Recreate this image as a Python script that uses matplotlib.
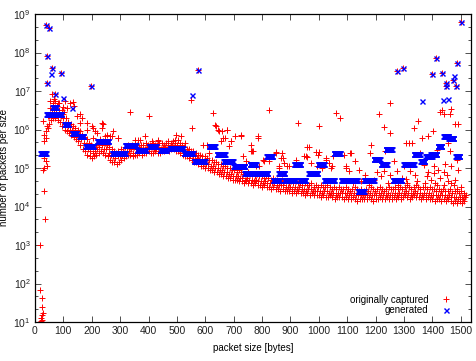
import numpy as np
import matplotlib
matplotlib.use("Agg")
import matplotlib.pyplot as plt
from matplotlib.ticker import FixedLocator, LogFormatterSciNotation, NullFormatter

plt.rcParams["font.family"] = ["Liberation Sans", "DejaVu Sans"]

# ---- originally captured (log10 of packet count) ----
# dense band: low / middle / high reading every 8 bytes, from 40 to 1512
red_core_size = np.arange(40, 1513, 8)
red_core_lo = [
    5.95, 6.15, 6.25, 6.3, 6.3, 6.25, 6.2, 6.1, 6.0, 5.95,
    5.9, 5.85, 5.8, 5.75, 5.7, 5.6, 5.5, 5.45, 5.35, 5.3,
    5.25, 5.3, 5.35, 5.4, 5.45, 5.4, 5.35, 5.3, 5.2, 5.15,
    5.15, 5.1, 5.15, 5.2, 5.25, 5.3, 5.35, 5.35, 5.3, 5.35,
    5.35, 5.4, 5.35, 5.4, 5.4, 5.45, 5.4, 5.4, 5.45, 5.4,
    5.4, 5.45, 5.45, 5.5, 5.45, 5.5, 5.5, 5.45, 5.45, 5.4,
    5.35, 5.3, 5.3, 5.25, 5.2, 5.15, 5.15, 5.1, 5.05, 5.05,
    5.0, 5.0, 4.95, 4.95, 4.9, 4.9, 4.85, 4.85, 4.8, 4.8,
    4.75, 4.75, 4.7, 4.7, 4.7, 4.65, 4.65, 4.6, 4.65, 4.6,
    4.6, 4.55, 4.6, 4.55, 4.55, 4.5, 4.55, 4.5, 4.5, 4.45,
    4.5, 4.45, 4.45, 4.4, 4.45, 4.4, 4.4, 4.4, 4.35, 4.4,
    4.35, 4.4, 4.35, 4.35, 4.3, 4.35, 4.3, 4.35, 4.3, 4.3,
    4.3, 4.25, 4.3, 4.25, 4.25, 4.3, 4.25, 4.2, 4.25, 4.25,
    4.25, 4.2, 4.25, 4.2, 4.2, 4.25, 4.2, 4.15, 4.2, 4.2,
    4.2, 4.2, 4.25, 4.2, 4.15, 4.2, 4.2, 4.25, 4.2, 4.2,
    4.25, 4.2, 4.2, 4.25, 4.2, 4.25, 4.2, 4.25, 4.3, 4.25,
    4.2, 4.25, 4.3, 4.25, 4.25, 4.2, 4.25, 4.2, 4.25, 4.2,
    4.2, 4.15, 4.2, 4.2, 4.15, 4.2, 4.15, 4.2, 4.15, 4.1,
    4.15, 4.1, 4.15, 4.1, 4.15,
]
red_core_mid = [
    6.1, 6.35, 6.45, 6.5, 6.45, 6.5, 6.35, 6.3, 6.15, 6.1,
    6.0, 6.0, 5.9, 5.9, 5.8, 5.75, 5.65, 5.6, 5.5, 5.45,
    5.4, 5.45, 5.5, 5.55, 5.6, 5.5, 5.5, 5.4, 5.35, 5.3,
    5.25, 5.3, 5.3, 5.35, 5.4, 5.45, 5.45, 5.5, 5.4, 5.5,
    5.45, 5.5, 5.5, 5.5, 5.55, 5.5, 5.55, 5.5, 5.5, 5.55,
    5.5, 5.55, 5.55, 5.6, 5.55, 5.6, 5.55, 5.55, 5.5, 5.5,
    5.45, 5.4, 5.4, 5.35, 5.3, 5.3, 5.25, 5.2, 5.2, 5.15,
    5.1, 5.1, 5.05, 5.05, 5.0, 5.0, 4.95, 4.95, 4.9, 4.9,
    4.85, 4.85, 4.8, 4.8, 4.8, 4.75, 4.75, 4.7, 4.75, 4.7,
    4.7, 4.65, 4.7, 4.65, 4.65, 4.6, 4.65, 4.6, 4.6, 4.6,
    4.6, 4.55, 4.55, 4.55, 4.55, 4.5, 4.5, 4.5, 4.45, 4.5,
    4.45, 4.5, 4.45, 4.45, 4.4, 4.45, 4.45, 4.4, 4.4, 4.4,
    4.4, 4.35, 4.4, 4.4, 4.35, 4.35, 4.35, 4.3, 4.35, 4.35,
    4.35, 4.35, 4.35, 4.3, 4.3, 4.35, 4.3, 4.3, 4.3, 4.3,
    4.3, 4.3, 4.35, 4.3, 4.3, 4.3, 4.35, 4.35, 4.3, 4.3,
    4.35, 4.3, 4.3, 4.35, 4.3, 4.35, 4.3, 4.35, 4.4, 4.35,
    4.3, 4.35, 4.4, 4.35, 4.35, 4.3, 4.35, 4.3, 4.35, 4.3,
    4.3, 4.3, 4.3, 4.3, 4.3, 4.3, 4.25, 4.3, 4.25, 4.25,
    4.25, 4.2, 4.25, 4.2, 4.25,
]
red_core_hi = [
    6.35, 6.55, 6.7, 6.75, 6.6, 6.7, 6.5, 6.45, 6.3, 6.2,
    6.15, 6.1, 6.05, 6.0, 5.95, 5.85, 5.8, 5.75, 5.65, 5.6,
    5.55, 5.6, 5.65, 5.75, 5.7, 5.65, 5.6, 5.55, 5.5, 5.45,
    5.4, 5.45, 5.5, 5.45, 5.55, 5.6, 5.55, 5.6, 5.55, 5.6,
    5.55, 5.6, 5.6, 5.65, 5.6, 5.6, 5.65, 5.6, 5.6, 5.65,
    5.65, 5.6, 5.65, 5.7, 5.65, 5.7, 5.65, 5.6, 5.65, 5.6,
    5.55, 5.5, 5.5, 5.45, 5.45, 5.4, 5.35, 5.35, 5.3, 5.3,
    5.25, 5.2, 5.2, 5.15, 5.15, 5.1, 5.1, 5.05, 5.05, 5.0,
    5.0, 4.95, 4.95, 4.9, 4.95, 4.9, 4.85, 4.85, 4.9, 4.85,
    4.85, 4.8, 4.85, 4.8, 4.8, 4.75, 4.8, 4.75, 4.7, 4.75,
    4.7, 4.7, 4.65, 4.7, 4.65, 4.65, 4.6, 4.65, 4.6, 4.65,
    4.6, 4.6, 4.55, 4.6, 4.55, 4.55, 4.6, 4.5, 4.55, 4.5,
    4.55, 4.5, 4.5, 4.55, 4.5, 4.45, 4.5, 4.45, 4.5, 4.45,
    4.45, 4.5, 4.45, 4.4, 4.45, 4.5, 4.45, 4.4, 4.45, 4.4,
    4.45, 4.4, 4.5, 4.45, 4.4, 4.45, 4.5, 4.45, 4.4, 4.45,
    4.5, 4.45, 4.45, 4.5, 4.45, 4.5, 4.45, 4.5, 4.55, 4.5,
    4.45, 4.5, 4.55, 4.5, 4.45, 4.5, 4.5, 4.45, 4.5, 4.45,
    4.45, 4.4, 4.45, 4.4, 4.45, 4.4, 4.4, 4.45, 4.35, 4.4,
    4.4, 4.35, 4.4, 4.35, 4.3,
]
# scattered sizes away from the band
red_extra_size = [
    19, 36, 31, 29, 31, 42, 37, 33, 33, 37, 31, 29, 47,
    19, 24, 24, 27, 23, 22, 21, 25,
    54, 60, 68, 82, 107, 134, 138, 124, 97, 114, 100, 160, 165, 148, 160,
    183, 183, 200, 205, 212, 218, 235, 239, 235, 206, 247, 253, 270, 274,
    265, 293, 294, 335, 352, 362, 370, 387, 402, 411, 433, 434, 492, 498,
    503, 516, 527, 538,
    551, 552, 591, 605, 612, 626, 635, 636, 643, 647, 657, 660, 661, 671,
    675, 677, 685, 691, 692, 703, 726, 726, 732, 744, 760, 761, 766, 767,
    779, 784, 787, 790, 802, 808, 825, 825, 849, 849, 860, 860, 866, 871,
    872, 878, 889, 896, 919, 927, 948, 954, 959, 960, 966, 972, 989, 995,
    997, 1001, 1001, 1011, 1024, 1024, 1036, 1042, 1046, 1050, 1059, 1073,
    1088, 1094, 1094,
    1106, 1108, 1112, 1129, 1141, 1164, 1179, 1182, 1204, 1211, 1218, 1228,
    1228, 1234, 1250, 1252, 1252, 1264, 1274, 1292, 1299, 1306, 1306, 1316,
    1322, 1327, 1334, 1340, 1351, 1357, 1362, 1369, 1380, 1386, 1386, 1401,
    1404, 1404, 1415, 1415, 1421, 1427, 1428, 1434, 1440, 1440, 1446, 1450,
    1456, 1462, 1462, 1467, 1467, 1467, 1480, 1481, 1486, 1486, 1491, 1491,
    1440, 1120, 1150, 1175, 1195, 1245, 1280, 1310, 1345, 1375, 1395, 1410,
    1455, 1475, 1500, 1505, 1510,
]
red_extra_log = [
    3.0, 3.68, 4.41, 4.96, 5.0, 5.04, 5.17, 5.27, 5.7, 5.79, 5.87, 6.22, 6.05,
    1.82, 1.62, 1.39, 1.24, 1.18, 1.11, 1.02, 1.05,
    6.74, 6.91, 6.78, 6.7, 6.74, 6.71, 6.6, 6.68, 6.58, 6.55, 6.39, 6.39,
    6.31, 6.35, 6.17, 6.18, 6.0, 6.09, 6.05, 5.96, 5.91, 6.16, 6.13, 6.04,
    5.78, 5.83, 5.87, 5.83, 5.96, 5.83, 5.79, 5.78, 6.46, 5.74, 5.74, 5.74,
    5.83, 6.35, 5.7, 5.7, 5.74, 5.72, 5.87, 5.72, 5.83, 5.66, 5.43,
    6.76, 6.03, 5.61, 5.61, 5.4, 6.43, 6.11, 6.1, 6.0, 5.96, 5.7, 5.96, 5.79,
    5.78, 6.0, 5.98, 5.58, 5.7, 5.71, 5.84, 5.87, 5.84, 5.3, 5.17, 5.45,
    5.61, 5.45, 5.43, 5.05, 5.79, 5.82, 5.05, 5.22, 5.17, 6.5, 5.17, 5.39,
    5.41, 5.0, 5.06, 5.27, 5.4, 5.27, 5.14, 5.06, 5.04, 5.22, 6.16, 5.3,
    5.3, 5.28, 5.55, 5.54, 5.13, 5.41, 5.05, 5.35, 6.1, 5.41, 5.01, 5.26,
    5.22, 5.14, 5.0, 5.05, 5.31, 6.42, 6.3, 5.35, 5.0, 5.05,
    4.91, 5.39, 5.39, 5.17, 4.96, 4.83, 5.39, 5.61, 4.9, 6.39, 4.8, 6.07,
    4.91, 5.43, 6.68, 5.91, 4.83, 5.17, 4.91, 4.75, 5.05, 5.64, 4.72, 5.64,
    4.91, 5.64, 6.03, 4.83, 6.22, 5.39, 5.79, 5.09, 4.78, 5.83, 4.9, 5.96,
    5.05, 4.87, 5.48, 4.55, 4.96, 4.74, 6.45, 6.5, 6.4, 4.9, 5.1, 4.83,
    5.65, 6.39, 5.43, 6.52, 5.05, 4.6, 4.7, 6.13, 5.22, 4.46, 6.13, 4.96,
    4.55, 4.6, 4.65, 4.55, 4.7, 4.6, 4.55, 4.6, 4.65, 4.6, 4.7, 4.6,
    4.65, 4.55, 4.5, 4.25, 4.3,
]
# peaks that the generated trace reproduces
red_peak_size = [37, 51, 44, 61, 93, 44, 198, 72, 573, 1274, 1295, 1414, 1500,
                 1488, 1397, 1435, 1449, 1449, 1474, 1484]
red_peak_log = [8.71, 8.63, 7.9, 7.61, 7.46, 7.2, 7.12, 6.91, 7.54, 7.51, 7.61,
                7.85, 8.79, 7.74, 7.43, 7.46, 7.22, 7.12, 7.28, 7.12]

# ---- generated: constant count over runs of sizes ----
gen_run_start = [19, 40, 61, 103, 131, 156, 177, 219, 272, 317, 359, 401, 440,
                 475, 524, 559, 612, 640, 664, 699, 738, 756, 780, 815, 839,
                 857, 878, 913, 931, 963, 997, 1018, 1053, 1078, 1137, 1158,
                 1193, 1218, 1235, 1260, 1298, 1334, 1358, 1375, 1393, 1418,
                 1439, 1456, 1481]
gen_run_end = [37, 93, 75, 117, 145, 170, 205, 258, 317, 355, 390, 426, 461,
               520, 555, 598, 633, 668, 696, 738, 773, 777, 818, 836, 860,
               878, 917, 934, 952, 994, 1018, 1053, 1074, 1134, 1158, 1193,
               1214, 1239, 1256, 1291, 1334, 1355, 1372, 1397, 1414, 1432,
               1456, 1474, 1495]
gen_run_log = [5.4, 6.4, 6.58, 6.13, 5.92, 5.82, 5.56, 5.69, 5.4, 5.6, 5.48,
               5.58, 5.48, 5.53, 5.4, 5.17, 5.56, 5.37, 5.19, 5.05, 4.88, 5.11,
               4.88, 5.3, 4.7, 4.88, 4.7, 5.11, 4.7, 4.88, 5.11, 4.7, 5.4, 4.7,
               4.39, 4.7, 5.24, 5.11, 5.5, 4.7, 5.11, 5.37, 5.19, 5.3, 5.37,
               5.58, 5.84, 5.77, 5.3]
gen_peak_size = [37, 51, 44, 61, 58, 93, 44, 198, 72, 100, 131, 573, 552, 1274,
                 1295, 1414, 1500, 1488, 1397, 1435, 1449, 1449, 1474, 1477,
                 1484, 1362, 1439, 1456]
gen_peak_log = [8.71, 8.63, 7.9, 7.61, 7.43, 7.46, 7.2, 7.12, 6.91, 6.81, 6.57,
                7.54, 6.89, 7.51, 7.61, 7.85, 8.79, 7.74, 7.43, 7.46, 7.22,
                7.12, 7.28, 7.38, 7.12, 6.73, 6.76, 6.78]

red_x = np.concatenate([red_core_size, red_core_size + 3, red_core_size + 6,
                        red_extra_size, red_peak_size])
red_y = 10.0 ** np.concatenate([red_core_lo, red_core_mid, red_core_hi,
                                red_extra_log, red_peak_log])

gen_x, gen_y = [], []
for s, e, v in zip(gen_run_start, gen_run_end, gen_run_log):
    sizes = np.arange(s, e + 1)
    gen_x.append(sizes)
    gen_y.append(np.full(len(sizes), 10.0 ** v))
gen_x = np.concatenate(gen_x + [np.array(gen_peak_size)])
gen_y = np.concatenate(gen_y + [10.0 ** np.array(gen_peak_log)])

fig = plt.figure(figsize=(4.76, 3.61), dpi=100)
ax = fig.add_axes([35 / 476, 1 - 322 / 361, (471 - 35) / 476, (322 - 14) / 361])

ax.plot(red_x, red_y, "+", color="#ff0000", ms=4.5, mew=0.7, ls="none",
        label="originally captured")
ax.plot(gen_x, gen_y, "x", color="#0000ff", ms=3.6, mew=1.0, ls="none",
        label="generated")

ax.set_yscale("log")
ax.set_xlim(0, 1536)
ax.set_ylim(1e1, 1e9)
ax.set_xticks(np.arange(0, 1501, 100))
ax.yaxis.set_major_locator(FixedLocator([10.0 ** k for k in range(1, 10)]))
ax.yaxis.set_major_formatter(LogFormatterSciNotation())
ax.yaxis.set_minor_locator(FixedLocator([10.0 ** (k + f) for k in range(1, 9) for f in (1 / 3, 2 / 3)]))
ax.yaxis.set_minor_formatter(NullFormatter())
ax.tick_params(which="both", direction="in", top=True, right=True,
               labelsize=7.5, colors="#333333", labelcolor="#222222", width=0.6)
ax.tick_params(which="major", length=4.5, pad=3)
ax.tick_params(which="minor", length=2.2)
for sp in ax.spines.values():
    sp.set_linewidth(0.9)

ax.set_xlabel("packet size [bytes]", fontsize=7, labelpad=5)
ax.set_ylabel("number of packets per size", fontsize=7, labelpad=3)

ax.legend(loc="lower right", bbox_to_anchor=(0.972, 0.0), frameon=False,
          markerfirst=False, fontsize=7, handlelength=1.2, handletextpad=1.2,
          labelspacing=0.05, borderaxespad=0.3)

fig.savefig("out.png", dpi=100)
